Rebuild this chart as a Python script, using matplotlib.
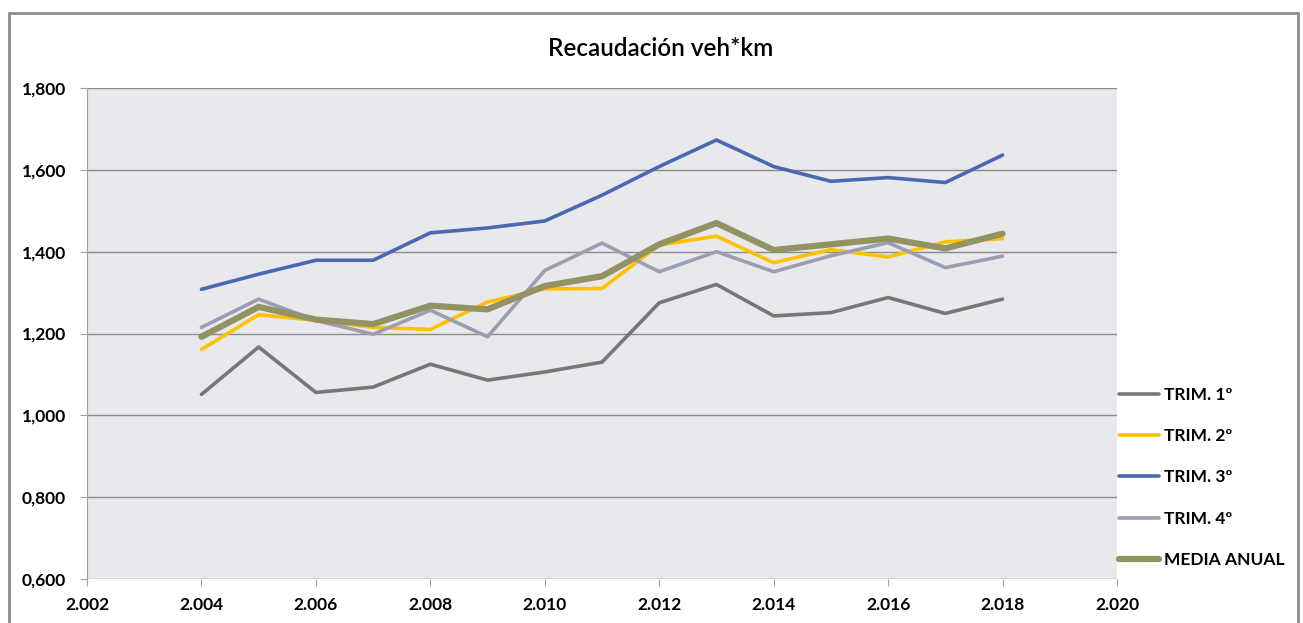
import matplotlib
matplotlib.use("Agg")
import matplotlib.pyplot as plt
from matplotlib.patches import Rectangle

years = [2004, 2005, 2006, 2007, 2008, 2009, 2010, 2011, 2012, 2013, 2014, 2015, 2016, 2017, 2018]

trim1 = [1.051, 1.167, 1.056, 1.069, 1.125, 1.086, 1.106, 1.130, 1.275, 1.320, 1.243, 1.251, 1.288, 1.249, 1.284]
trim2 = [1.161, 1.246, 1.232, 1.215, 1.210, 1.277, 1.309, 1.310, 1.416, 1.438, 1.373, 1.405, 1.387, 1.424, 1.432]
trim3 = [1.308, 1.345, 1.379, 1.379, 1.446, 1.458, 1.475, 1.538, 1.608, 1.673, 1.608, 1.572, 1.581, 1.569, 1.636]
trim4 = [1.215, 1.284, 1.232, 1.198, 1.257, 1.192, 1.354, 1.421, 1.351, 1.400, 1.351, 1.390, 1.422, 1.361, 1.389]
media = [1.192, 1.265, 1.234, 1.223, 1.268, 1.259, 1.316, 1.340, 1.418, 1.470, 1.404, 1.418, 1.432, 1.408, 1.444]

labels = ["TRIM. 1º", "TRIM. 2º", "TRIM. 3º", "TRIM. 4º", "MEDIA ANUAL"]
colors = ["#777777", "#FFC000", "#4A67B2", "#9D9DB1", "#929263"]
widths = [2.6, 2.6, 2.6, 2.6, 4.5]

xticks = [2002, 2004, 2006, 2008, 2010, 2012, 2014, 2016, 2018, 2020]
xtick_labels = ["2.002", "2.004", "2.006", "2.008", "2.010", "2.012", "2.014", "2.016", "2.018", "2.020"]
yticks = [0.6, 0.8, 1.0, 1.2, 1.4, 1.6, 1.8]
ytick_labels = ["0,600", "0,800", "1,000", "1,200", "1,400", "1,600", "1,800"]

plt.rcParams["font.family"] = ["Lato", "DejaVu Sans"]

fig = plt.figure(figsize=(13.03, 6.23), dpi=100)
ax = fig.add_axes([87 / 1303, 1 - 579 / 623, 1030 / 1303, 491 / 623])
ax.set_facecolor("#E8E9ED")

# outer chart frame (bottom edge is cut off in the reference)
fig.patches.append(Rectangle((9 / 1303, -0.05), 1289 / 1303, 1.05 - 13 / 623,
                             transform=fig.transFigure, fill=False,
                             edgecolor="#8C8C8C", linewidth=2))

series = [trim1, trim2, trim3, trim4, media]
for vals, lab, col, lw in zip(series, labels, colors, widths):
    ax.plot(years, vals, color=col, lw=lw, label=lab, solid_capstyle="round")

ax.set_xlim(2002, 2020)
ax.set_ylim(0.6, 1.8)
ax.set_xticks(xticks)
ax.set_xticklabels(xtick_labels)
ax.set_yticks(yticks)
ax.set_yticklabels(ytick_labels)
ax.grid(axis="y", color="#8A8A8A", lw=1)
ax.set_axisbelow(True)
for s in ["top", "right", "bottom"]:
    ax.spines[s].set_visible(False)
ax.spines["left"].set_color("#A0A0A0")
ax.tick_params(axis="both", colors="#A0A0A0", length=5, labelcolor="black",
               labelsize=12.5)
ax.tick_params(axis="x", pad=8)
ax.tick_params(axis="y", pad=10)
for t in ax.get_xticklabels() + ax.get_yticklabels():
    t.set_fontweight("bold")

fig.text(0.507, 1 - 48 / 623, "Recaudación veh*km", ha="center", va="center",
         fontsize=17.5, fontweight="semibold")

leg = ax.legend(loc="upper left", bbox_to_anchor=(0.995, 0.405), frameon=False,
                handlelength=2.3, handletextpad=0.3, labelspacing=1.45,
                borderaxespad=0, prop={"weight": "bold", "size": 12.5})

fig.savefig("out.png", dpi=100)
